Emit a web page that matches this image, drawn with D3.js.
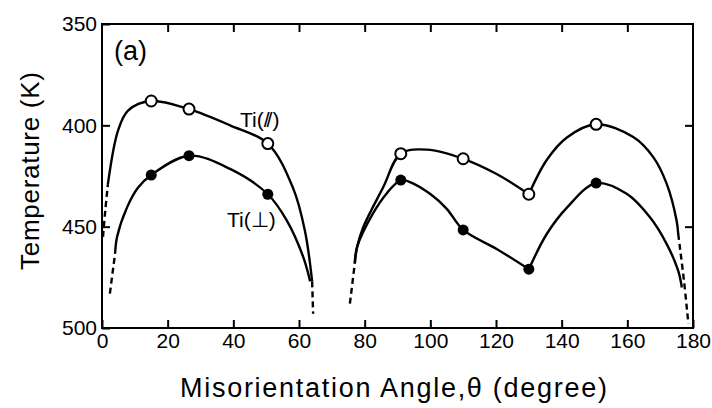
<!DOCTYPE html>
<html>
<head>
<meta charset="utf-8">
<script src="https://cdn.jsdelivr.net/npm/d3@7/dist/d3.min.js"></script>
<style>
body { margin: 0; background: #fff; }
text { font-family: "Liberation Sans", Arial, sans-serif; fill: #000; }
</style>
</head>
<body>
<div class="view"></div>
<script>
// measured points
var angles = [15, 26.5, 50.5, 91, 110, 130, 150.5];
var tiPara = [388, 392, 409, 414, 416.5, 434, 399.5];
var tiPerp = [424.5, 415, 434, 427, 451.6, 471, 428.5];

// curves as drawn in the figure, [angle, temperature]
var paraLeft = [[1.8, 429], [4.9, 402.5], [8, 392.6], [15, 388], [26.5, 392], [39, 400], [50.5, 409], [58.2, 431], [61.8, 452], [64, 477]];
var perpLeft = [[4, 463], [4.6, 455], [7.6, 440.6], [11, 430.7], [15, 424.5], [26.5, 415], [39, 421.5], [50.5, 434], [56.3, 447], [61.3, 465], [63.4, 477]];
var paraMid = [[77, 468], [77.7, 460], [79.5, 450.5], [85.6, 430.7], [91, 414], [99, 412], [110, 416.5], [120.2, 424], [130, 434]];
var perpMid = [[77, 468], [77.7, 460], [82.5, 443.6], [86.7, 433.6], [91, 427], [93.8, 428], [99.9, 433.8], [105, 441.2], [110, 451.6], [120.2, 461], [130, 471]];
var paraRight = [[130, 434], [135.5, 417], [141.6, 406], [150.5, 399.5], [161.8, 405.8], [167.9, 415.7], [172, 428.9], [175, 447], [175.5, 453.6]];
var perpRight = [[130, 471], [135.5, 453.5], [141.6, 440.6], [150.5, 428.5], [159.8, 433.8], [166.9, 445.4], [172, 458.6], [175.5, 471.8], [176.6, 480]];

// dashed extensions
var dashes = [
  [[0.3, 455], [1.0, 442], [1.8, 429]],
  [[2.4, 483], [4, 463]],
  [[64, 477], [64.3, 493]],
  [[75.5, 488], [77, 468]],
  [[175.5, 453.6], [177.2, 476], [178.6, 498]]
];

var xTicks = [0, 20, 40, 60, 80, 100, 120, 140, 160, 180];
var yTicks = [350, 400, 450, 500];

var width = 712, height = 408;
var pLeft = 102, pRight = 693, pTop = 24, pBottom = 328;

var svg = d3.select('.view')
.append('svg')
.attr('width', width)
.attr('height', height);

var x = d3.scaleLinear()
.domain([0, 180])
.range([pLeft, pRight]);

var y = d3.scaleLinear()
.domain([350, 500])
.range([pTop, pBottom]);

// frame
svg.append("rect")
.attr("x", pLeft)
.attr("y", pTop)
.attr("width", pRight - pLeft)
.attr("height", pBottom - pTop)
.attr("fill", "none")
.attr("stroke", "#000")
.attr("stroke-width", 2);

function styleAxis(g) {
  g.select(".domain").remove();
  g.selectAll("line").attr("stroke", "#000").attr("stroke-width", 2);
  g.selectAll("text").attr("font-size", 21).attr("fill", "#000")
  .style("font-family", "'Liberation Sans', Arial, sans-serif");
}

svg.append("g")
.attr("transform", "translate(0," + pBottom + ")")
.call(d3.axisBottom(x).tickValues(xTicks).tickSize(-8).tickPadding(5))
.call(styleAxis);

svg.append("g")
.attr("transform", "translate(0," + pTop + ")")
.call(d3.axisTop(x).tickValues(xTicks.slice(1, -1)).tickSize(-8).tickFormat(""))
.call(styleAxis);

svg.append("g")
.attr("transform", "translate(" + pLeft + ",0)")
.call(d3.axisLeft(y).tickValues(yTicks).tickSize(-8).tickPadding(5))
.call(styleAxis);

svg.append("g")
.attr("transform", "translate(" + pRight + ",0)")
.call(d3.axisRight(y).tickValues(yTicks.slice(1, -1)).tickSize(-8).tickFormat(""))
.call(styleAxis);

var line = d3.line()
.x(function(d) { return x(d[0]); })
.y(function(d) { return y(d[1]); })
.curve(d3.curveCatmullRom.alpha(0.5));

[paraLeft, perpLeft, paraMid, perpMid, paraRight, perpRight].forEach(function(c) {
  svg.append("path")
  .datum(c)
  .attr("fill", "none")
  .attr("stroke", "#000")
  .attr("stroke-width", 2.4)
  .attr("d", line);
});

dashes.forEach(function(c) {
  svg.append("path")
  .datum(c)
  .attr("fill", "none")
  .attr("stroke", "#000")
  .attr("stroke-width", 2.4)
  .attr("stroke-dasharray", "6,4")
  .attr("d", line);
});

svg.selectAll(".perp")
.data(angles)
.enter()
.append("circle")
.attr("class", "perp")
.attr("cx", function(d) { return x(d); })
.attr("cy", function(d, i) { return y(tiPerp[i]); })
.attr("r", 5.5)
.attr("fill", "#000");

svg.selectAll(".para")
.data(angles)
.enter()
.append("circle")
.attr("class", "para")
.attr("cx", function(d) { return x(d); })
.attr("cy", function(d, i) { return y(tiPara[i]); })
.attr("r", 5.5)
.attr("fill", "#fff")
.attr("stroke", "#000")
.attr("stroke-width", 2);

svg.append("text")
.attr("x", 114)
.attr("y", 60)
.attr("font-size", 27)
.text("(a)");

var tp = svg.append("text")
.attr("x", 240)
.attr("y", 127)
.attr("font-size", 21);
tp.append("tspan").text("Ti(");
tp.append("tspan").attr("letter-spacing", -3).text("//");
tp.append("tspan").attr("dx", 3).text(")");

svg.append("text")
.attr("x", 227)
.attr("y", 227)
.attr("font-size", 21)
.text("Ti(\u22A5)");

svg.append("text")
.attr("transform", "translate(39,171) rotate(-90)")
.attr("text-anchor", "middle")
.attr("font-size", 26)
.attr("textLength", 198)
.text("Temperature (K)");

svg.append("text")
.attr("x", 180)
.attr("y", 397)
.attr("font-size", 27)
.attr("textLength", 427)
.text("Misorientation Angle,\u03B8 (degree)");
</script>
</body>
</html>
